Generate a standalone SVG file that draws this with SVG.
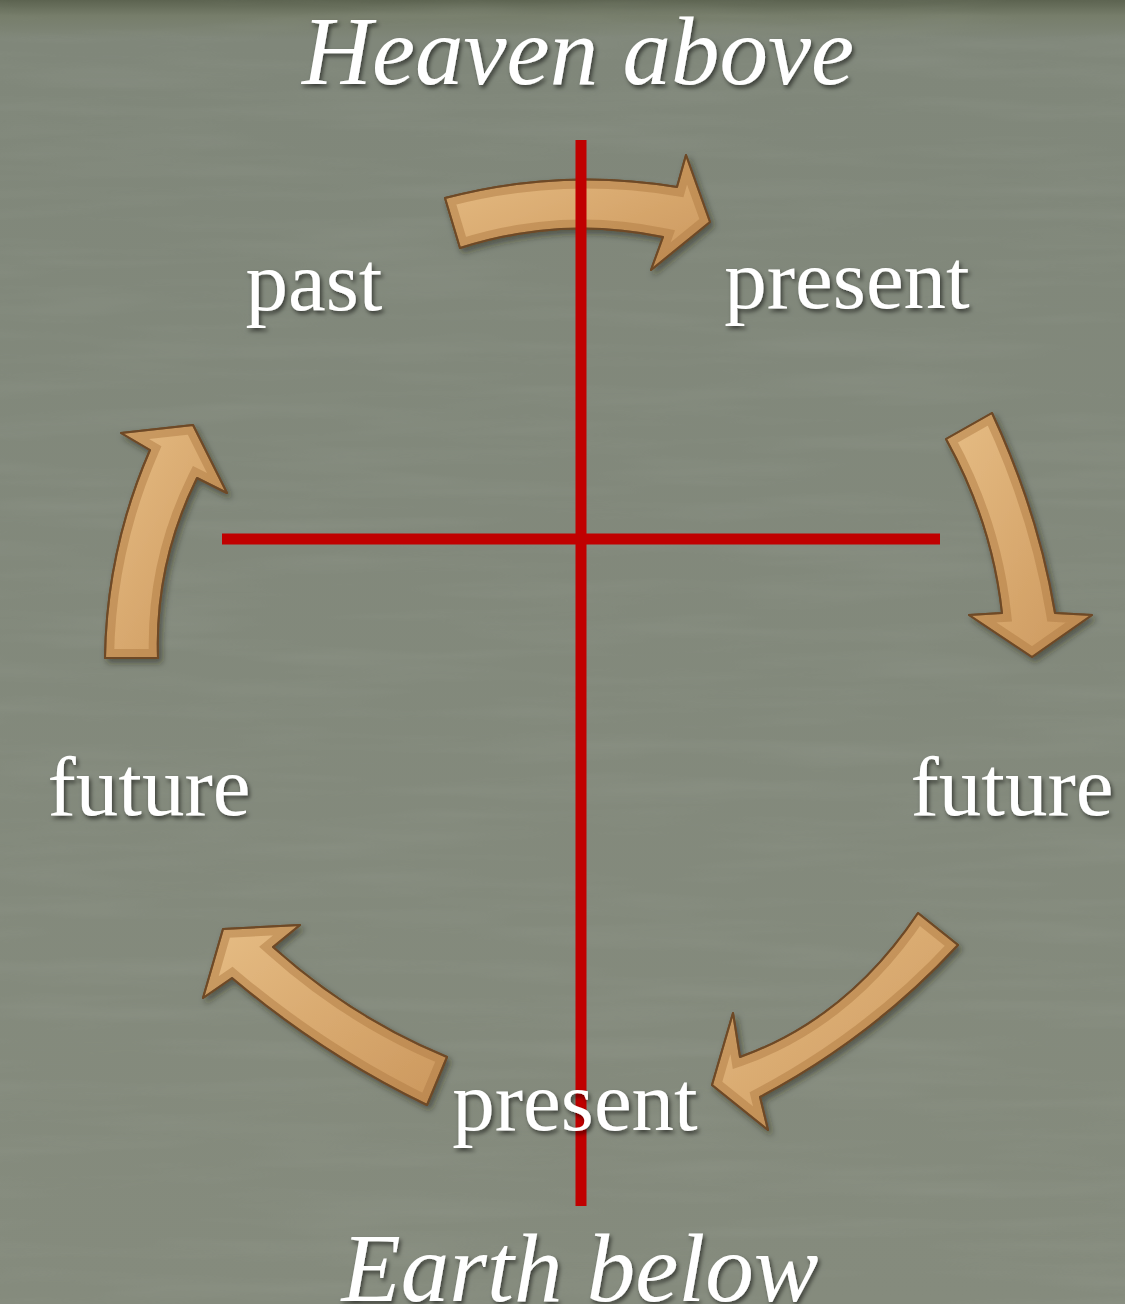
<svg xmlns="http://www.w3.org/2000/svg" width="1125" height="1304" viewBox="0 0 1125 1304">
<defs>
<style>
.lbl{font-family:"Liberation Serif","DejaVu Serif",serif;font-size:85px;fill:#ffffff;text-anchor:middle;filter:url(#tshadow)}
.ttl{font-family:"Liberation Serif","DejaVu Serif",serif;font-style:italic;font-size:97px;fill:#ffffff;text-anchor:middle;filter:url(#tshadow)}
.arrow-body{fill:url(#tan);stroke:#6e4a28;stroke-width:2;stroke-linejoin:round}
.bevel{fill:none;stroke:#b07c44;stroke-opacity:0.5;stroke-width:18}
.cross{stroke:#c00000;stroke-width:11;fill:none}
</style>
<linearGradient id="bg" x1="0" y1="0" x2="0" y2="1">
<stop offset="0" stop-color="#5c6350"/>
<stop offset="0.012" stop-color="#767d6a"/>
<stop offset="0.03" stop-color="#80877a"/>
<stop offset="1" stop-color="#858b7d"/>
</linearGradient>
<linearGradient id="tan" x1="0" y1="0" x2="1" y2="1">
<stop offset="0" stop-color="#e6bd85"/>
<stop offset="0.5" stop-color="#d9aa70"/>
<stop offset="1" stop-color="#cb975d"/>
</linearGradient>
<filter id="streaks" x="0" y="0" width="100%" height="100%">
<feTurbulence type="fractalNoise" baseFrequency="0.004 0.05" numOctaves="3" seed="4" result="n"/>
<feColorMatrix type="matrix" values="0 0 0 0 0.42  0 0 0 0 0.45  0 0 0 0 0.40  0 0 0 1.1 -0.45"/>
</filter>
<filter id="tshadow" x="-10%" y="-20%" width="120%" height="150%">
<feDropShadow dx="2" dy="3" stdDeviation="2" flood-color="#000" flood-opacity="0.55"/>
</filter>
<filter id="ashadow" x="-20%" y="-20%" width="140%" height="140%">
<feDropShadow dx="3" dy="4" stdDeviation="3" flood-color="#1e2218" flood-opacity="0.5"/>
</filter>
<path id="a1" d="M445,198 Q561,167.5 677,187 L686,155 L710,222 L651,270 L663,237 Q561.5,215.5 460,248 Z"/>
<path id="a2" d="M105,658 Q106.5,550 150,450 L121,433 L193,425 L227,493 L197,478 Q154.5,564 158,658 Z"/>
<path id="a3" d="M946,439 Q992,522 1002,613 L969,615 L1032,657 L1092,615 L1055,613 Q1038.5,513 992,413 Z"/>
<path id="a4" d="M918,913 Q847,1019 740,1057 L733,1013 L712,1085 L768,1130 L760,1097 Q873,1037 958,945 Z"/>
<path id="a5" d="M447,1057 Q352,1018 273,947 L300,925 L223,929 L203,998 L232,978 Q322.5,1054.5 427,1105 Z"/>
<clipPath id="c1"><use href="#a1"/></clipPath>
<clipPath id="c2"><use href="#a2"/></clipPath>
<clipPath id="c3"><use href="#a3"/></clipPath>
<clipPath id="c4"><use href="#a4"/></clipPath>
<clipPath id="c5"><use href="#a5"/></clipPath>
</defs>

<rect x="0" y="0" width="1125" height="1304" fill="url(#bg)"/>
<rect x="0" y="0" width="1125" height="1304" filter="url(#streaks)" opacity="0.22"/>

<g id="connectors">
<g id="arrow-top" filter="url(#ashadow)">
<use href="#a1" class="arrow-body"/>
<use href="#a1" class="bevel" clip-path="url(#c1)"/>
<use href="#a1" class="arrow-body" style="fill:none"/>
</g>
<g id="arrow-left" filter="url(#ashadow)">
<use href="#a2" class="arrow-body"/>
<use href="#a2" class="bevel" clip-path="url(#c2)"/>
<use href="#a2" class="arrow-body" style="fill:none"/>
</g>
<g id="arrow-right" filter="url(#ashadow)">
<use href="#a3" class="arrow-body"/>
<use href="#a3" class="bevel" clip-path="url(#c3)"/>
<use href="#a3" class="arrow-body" style="fill:none"/>
</g>
<g id="arrow-bottom-right" filter="url(#ashadow)">
<use href="#a4" class="arrow-body"/>
<use href="#a4" class="bevel" clip-path="url(#c4)"/>
<use href="#a4" class="arrow-body" style="fill:none"/>
</g>
<g id="arrow-bottom-left" filter="url(#ashadow)">
<use href="#a5" class="arrow-body"/>
<use href="#a5" class="bevel" clip-path="url(#c5)"/>
<use href="#a5" class="arrow-body" style="fill:none"/>
</g>
</g>

<g id="cross">
<line class="cross" x1="581" y1="140" x2="581" y2="1206"/>
<line class="cross" x1="222" y1="539" x2="940" y2="539"/>
</g>

<g id="heaven"><text class="ttl" x="578" y="84">Heaven above</text></g>
<g id="past"><text class="lbl" x="314" y="310">past</text></g>
<g id="present-top"><text class="lbl" x="847" y="308">present</text></g>
<g id="future-left"><text class="lbl" x="149" y="815">future</text></g>
<g id="future-right"><text class="lbl" x="1012" y="815">future</text></g>
<g id="present-bottom"><text class="lbl" x="575" y="1130">present</text></g>
<g id="earth"><text class="ttl" x="580" y="1301">Earth below</text></g>
</svg>
